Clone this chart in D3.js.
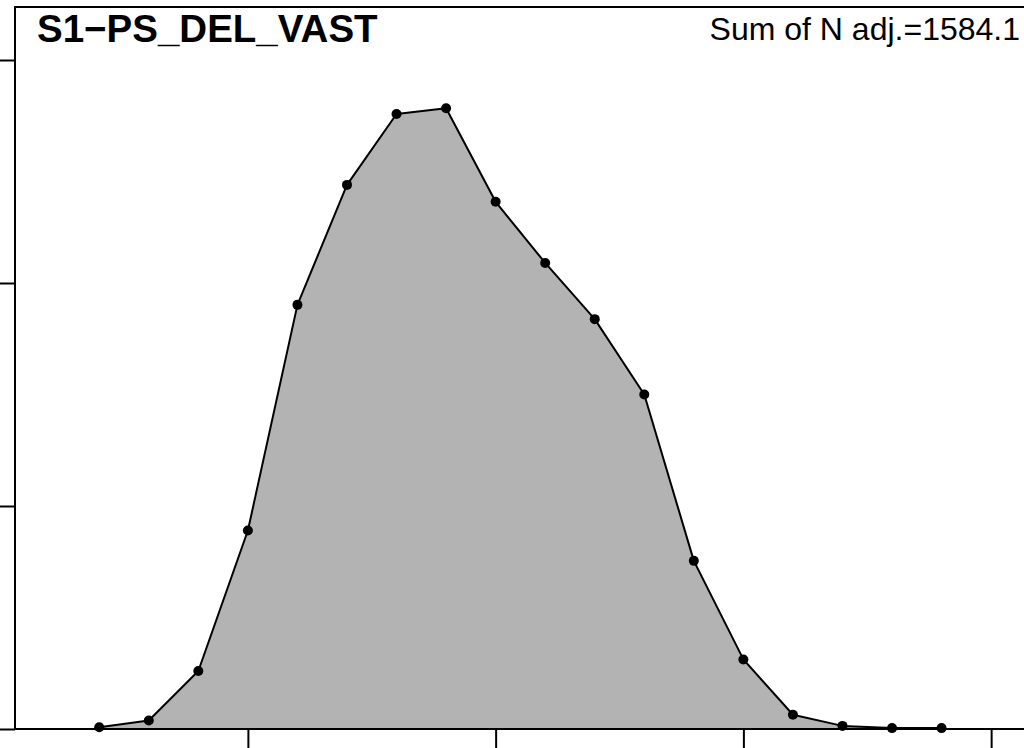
<!DOCTYPE html>
<html>
<head>
<meta charset="utf-8">
<script src="https://cdn.jsdelivr.net/npm/d3@7"></script>
<style>
  html, body { margin: 0; padding: 0; background: #fff; }
  svg { display: block; }
</style>
</head>
<body>
<svg id="chart" width="1024" height="748"></svg>
<script>
// Length-frequency distribution (percent of adjusted N per 1 cm class)
const lengthClasses = [17, 18, 19, 20, 21, 22, 23, 24, 25, 26, 27, 28, 29, 30, 31, 32, 33, 34];
const percentValues = [0.04, 0.19, 1.30, 4.45, 9.51, 12.20, 13.79, 13.92, 11.82, 10.45, 9.19, 7.50, 3.77, 1.56, 0.32, 0.07, 0.02, 0.02];
const xTicks = [20, 25, 30, 35];
const yTicks = [0, 5, 10, 15];
const titleText = "S1\u2212PS_DEL_VAST";
const sumText = "Sum of N adj.=1584.1";

const svg = d3.select("#chart");
const plot = { left: 15, top: 7, right: 1041, bottom: 729 };

const x = d3.scaleLinear().domain([15.3, 36]).range([plot.left, plot.left + 20.7 * 49.55]);
const y = d3.scaleLinear().domain([0, (plot.bottom - plot.top) / 44.6]).range([plot.bottom, plot.top]);

const pts = lengthClasses.map((c, i) => [c, percentValues[i]]);

// shaded area under the distribution
const area = d3.area()
  .x(d => x(d[0]))
  .y0(y(0))
  .y1(d => y(d[1]));
svg.append("path")
  .datum(pts)
  .attr("d", area)
  .attr("fill", "#b3b3b3")
  .attr("stroke", "none");

// outline
const line = d3.line().x(d => x(d[0])).y(d => y(d[1]));
svg.append("path")
  .datum(pts)
  .attr("d", line)
  .attr("fill", "none")
  .attr("stroke", "#000")
  .attr("stroke-width", 2)
  .attr("stroke-linejoin", "round");

// points
svg.append("g")
  .selectAll("circle")
  .data(pts)
  .join("circle")
  .attr("cx", d => x(d[0]))
  .attr("cy", d => y(d[1]))
  .attr("r", 5)
  .attr("fill", "#000");

// axes (tick marks only)
const yAxis = d3.axisLeft(y).tickValues(yTicks).tickSize(15).tickFormat("").tickSizeOuter(0);
const gy = svg.append("g").attr("transform", `translate(${plot.left},0)`).call(yAxis);
const xAxis = d3.axisBottom(x).tickValues(xTicks).tickSize(19).tickFormat("").tickSizeOuter(0);
const gx = svg.append("g").attr("transform", `translate(0,${plot.bottom})`).call(xAxis);
[gx, gy].forEach(g => {
  g.select(".domain").remove();
  g.selectAll(".tick line").attr("stroke", "#000").attr("stroke-width", 2);
});

// frame
svg.append("rect")
  .attr("x", plot.left)
  .attr("y", plot.top)
  .attr("width", plot.right - plot.left)
  .attr("height", plot.bottom - plot.top)
  .attr("fill", "none")
  .attr("stroke", "#000")
  .attr("stroke-width", 2);

// labels
svg.append("text")
  .attr("x", 37)
  .attr("y", 42)
  .attr("font-family", "'Liberation Sans', Arial, sans-serif")
  .attr("font-weight", "bold")
  .attr("font-size", 38.5)
  .text(titleText);

svg.append("text")
  .attr("x", 1020)
  .attr("y", 40)
  .attr("text-anchor", "end")
  .attr("font-family", "'Liberation Sans', Arial, sans-serif")
  .attr("font-size", 32)
  .text(sumText);
</script>
</body>
</html>
